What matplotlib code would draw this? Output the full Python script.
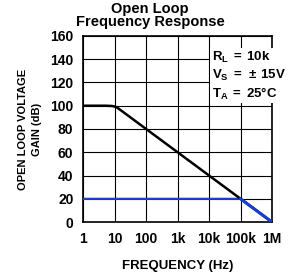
import numpy as np
import matplotlib
matplotlib.use('Agg')
import matplotlib.pyplot as plt

plt.rcParams['font.family'] = ['Liberation Sans Narrow', 'Liberation Sans', 'DejaVu Sans']
plt.rcParams['font.weight'] = 'bold'
plt.rcParams['mathtext.fontset'] = 'custom'
plt.rcParams['mathtext.rm'] = 'Liberation Sans:bold'
plt.rcParams['mathtext.bf'] = 'Liberation Sans:bold'
plt.rcParams['mathtext.it'] = 'Liberation Sans:bold'

# open loop gain curve (dB vs Hz)
ol_freq = [1, 5, 8, 10, 12, 15, 20, 1e6]
ol_gain = [100, 100, 99.8, 99.3, 98.4, 96.5, 94.0, 0]

# closed loop gain = 20 dB
cl_freq = [1, 1e5, 1e6]
cl_gain = [20, 20, 0]

xticks = [1, 10, 100, 1e3, 1e4, 1e5, 1e6]
xlabels = ['1', '10', '100', '1k', '10k', '100k', '1M']
yticks = list(range(0, 161, 20))

fig = plt.figure(figsize=(3.0, 2.78), dpi=100)
ax = fig.add_axes([0.277, 0.201, 0.63, 0.67])

ax.plot(cl_freq, cl_gain, color='#1a3fd0', lw=1.6, zorder=3)
ax.plot(ol_freq, ol_gain, color='black', lw=1.8, zorder=4)
ax.plot(cl_freq[1:], cl_gain[1:], color='#1a3fd0', lw=2.2, zorder=5)

ax.set_xscale('log')
ax.set_xlim(1, 1e6)
ax.set_ylim(0, 160)
ax.set_xticks(xticks)
ax.set_xticklabels(xlabels)
ax.minorticks_off()
ax.set_yticks(yticks)
ax.grid(True, color='black', lw=0.8)
ax.tick_params(length=0, labelsize=10, pad=7)
for s in ax.spines.values():
    s.set_linewidth(1.2)

ax.set_xlabel('FREQUENCY (Hz)', fontsize=9.5, fontweight='bold', labelpad=10)
ax.set_ylabel('OPEN LOOP VOLTAGE\nGAIN (dB)', fontsize=8, fontweight='bold', labelpad=6,
              linespacing=1.45)
fig.text(0.5, 0.993, 'Open Loop\nFrequency Response', fontsize=10.5, fontweight='bold',
         fontfamily=['Liberation Sans', 'DejaVu Sans'], linespacing=0.95,
         ha='center', va='top')

ax.text(0.68, 0.925, '$R_L\\;=\\;10k$\n$V_S\\;=\\;\\pm\\,15V$\n$T_A\\;=\\;25\\degree C$',
        transform=ax.transAxes, fontsize=9.5, va='top', ha='left',
        bbox=dict(facecolor='white', edgecolor='none', pad=1.0), zorder=6, linespacing=1.25)

fig.savefig('out.png', dpi=100)
